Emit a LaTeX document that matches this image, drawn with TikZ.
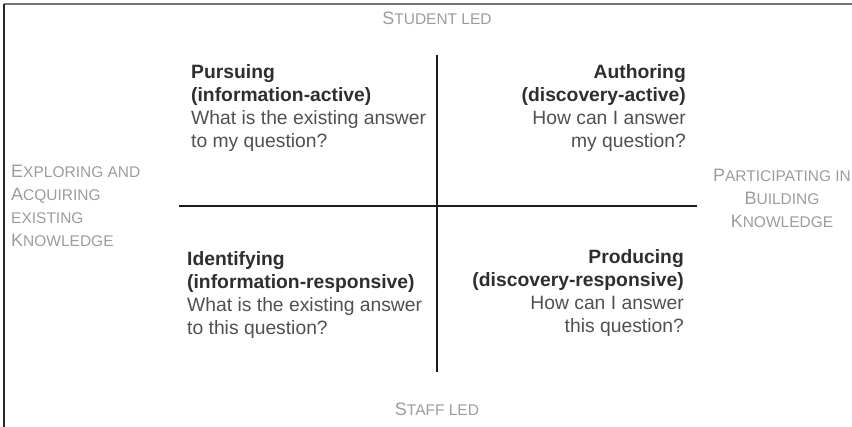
\documentclass[tikz,border=0pt]{standalone}
\usepackage{fontspec}
\setmainfont{Liberation Sans}
\usepackage{tikz}
\usetikzlibrary{positioning}
\definecolor{headgray}{HTML}{2E2E2E}
\definecolor{bodygray}{HTML}{505050}
\definecolor{labelgray}{HTML}{9C9C9C}
\definecolor{axisgray}{HTML}{1C1C1C}
% fake small caps: big first letter, smaller capitals after it
\newcommand{\smcap}[2]{#1{\fontsize{15.5}{23}\selectfont #2}}
\newcommand{\smlow}[1]{{\fontsize{15.5}{23}\selectfont #1}}
\tikzset{
  quad/.style={inner sep=0, font=\fontsize{19.3}{23.2}\selectfont},
  axislabel/.style={inner sep=0, text=labelgray, font=\fontsize{18}{23}\selectfont},
  axis/.style={line width=2.4pt, draw=axisgray},
}
\begin{document}
\begin{tikzpicture}[x=1pt, y=-1pt]
\useasboundingbox (0,0) rectangle (852,427);
%frame on two sides
\coordinate (frame_tl) at (4,4);
\coordinate (frame_tr) at (852,4);
\coordinate (frame_bl) at (4,427);
\draw[line width=1.4pt, draw=black!55] (frame_tl) -- (frame_tr);
\draw[line width=1.4pt, draw=black!85] (frame_tl) -- (frame_bl);
%the two axes
\coordinate (axis_top) at (437,55);
\coordinate (axis_bottom) at (437,372);
\coordinate (axis_left) at (179,206);
\coordinate (axis_right) at (697,206);
\draw[axis] (axis_top) -- (axis_bottom);
\draw[axis] (axis_left) -- (axis_right);
%axis labels
\node[axislabel, anchor=base] (student) at (437,25) {\smcap{S}{TUDENT LED}};
\node[axislabel, anchor=base] (staff) at (437,416) {\smcap{S}{TAFF LED}};
\node[axislabel, anchor=north west, align=left] (exploring) at (11,165)
  {\smcap{E}{XPLORING AND}\\ \smcap{A}{CQUIRING}\\ \smlow{EXISTING}\\ \smcap{K}{NOWLEDGE}};
\node[axislabel, anchor=north, align=center] (participating) at (782,169)
  {\smcap{P}{ARTICIPATING IN}\\ \smcap{B}{UILDING}\\ \smcap{K}{NOWLEDGE}};
%four quadrants
\node[quad, anchor=north west, align=left] (pursuing) at (191,64)
  {\textcolor{headgray}{\bfseries Pursuing}\\ \textcolor{headgray}{\bfseries (information-active)}\\
   \textcolor{bodygray}{What is the existing answer}\\ \textcolor{bodygray}{to my question?}};
\node[quad, anchor=north east, align=right] (authoring) at (686,64)
  {\textcolor{headgray}{\bfseries Authoring}\\ \textcolor{headgray}{\bfseries (discovery-active)}\\
   \textcolor{bodygray}{How can I answer}\\ \textcolor{bodygray}{my question?}};
\node[quad, anchor=north west, align=left] (identifying) at (187,251)
  {\textcolor{headgray}{\bfseries Identifying}\\ \textcolor{headgray}{\bfseries (information-responsive)}\\
   \textcolor{bodygray}{What is the existing answer}\\ \textcolor{bodygray}{to this question?}};
\node[quad, anchor=north east, align=right] (producing) at (684,249)
  {\textcolor{headgray}{\bfseries Producing}\\ \textcolor{headgray}{\bfseries (discovery-responsive)}\\
   \textcolor{bodygray}{How can I answer}\\ \textcolor{bodygray}{this question?}};
\end{tikzpicture}
\end{document}
